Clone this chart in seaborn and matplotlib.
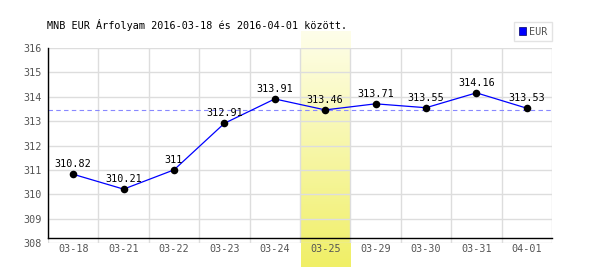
import numpy as np
import pandas as pd
import matplotlib
matplotlib.use("Agg")
import matplotlib.pyplot as plt
from matplotlib.patches import Patch
from matplotlib.colors import LinearSegmentedColormap
import seaborn as sns

dates = ["03-18", "03-21", "03-22", "03-23", "03-24", "03-25", "03-29", "03-30", "03-31", "04-01"]
rates = [310.82, 310.21, 311.00, 312.91, 313.91, 313.46, 313.71, 313.55, 314.16, 313.53]
average_rate = 313.45
highlight_date = "03-25"
title = "MNB EUR Árfolyam 2016-03-18 és 2016-04-01 között."
series_name = "EUR"

plt.rcParams['font.family'] = ['DejaVu Sans Mono']
fs = 7.3

df = pd.DataFrame({"date": dates, "rate": rates})
df["pos"] = np.arange(len(dates))

fig = plt.figure(figsize=(6, 2.7), dpi=100)
ax = fig.add_axes([48/600, 1 - 243/270, 504/600, 195/270])

# highlight band (gradient)
cmap = LinearSegmentedColormap.from_list("band", ["#fefeea", "#f0ef66"])
hi = dates.index(highlight_date)
grad = np.linspace(0, 1, 256).reshape(-1, 1)
ax.imshow(grad, cmap=cmap, aspect="auto", origin="upper",
          extent=(hi - 0.49, hi + 0.49, 307.0, 316.66), clip_on=False, zorder=0)

sns.lineplot(data=df, x="pos", y="rate", color="#0000ff", linewidth=0.9, ax=ax, zorder=3)
sns.scatterplot(data=df, x="pos", y="rate", color="black", s=30, edgecolor="black",
                linewidth=0, ax=ax, zorder=4)
ax.axhline(average_rate, color="#8888ff", linewidth=0.8, linestyle=(0, (4, 3)), zorder=2)

for x, y in zip(df["pos"], df["rate"]):
    ax.annotate(f"{y:g}", (x, y), xytext=(0, 7), textcoords="offset pixels",
                ha="center", va="baseline", fontsize=fs, color="black", zorder=5)

ax.set_xlim(-0.5, len(dates) - 0.5)
ax.set_ylim(308, 316)
ax.set_xticks(df["pos"])
ax.set_xticklabels(dates)
ax.set_xticks(np.arange(-0.5, len(dates)), minor=True)
ax.set_yticks(np.arange(308, 317))
ax.set_axisbelow(True)
ax.grid(which="minor", axis="x", color="#dddddd", linewidth=1)
ax.grid(which="major", axis="y", color="#dddddd", linewidth=1)
ax.grid(which="major", axis="x", visible=False)
ax.tick_params(axis="both", which="both", length=0, labelsize=fs, colors="#555555")
ax.tick_params(axis="y", pad=4.5)
ax.tick_params(axis="x", pad=4)
ax.set_xlabel("")
ax.set_ylabel("")
for s in ["top", "right"]:
    ax.spines[s].set_visible(False)
ax.spines["bottom"].set_position(("axes", 5/195))
ax.spines["bottom"].set_color("black")
ax.spines["left"].set_color("black")
ax.spines["left"].set_bounds(308 + 5/195*8, 316)
ax.spines["bottom"].set_linewidth(1)
ax.spines["left"].set_linewidth(1)
ax.spines["bottom"].set_zorder(6)

fig.text(47/600, 1 - 25/270, title, fontsize=fs, color="black", ha="left", va="center")

handles = [Patch(facecolor="#0000ff", edgecolor="#000066", linewidth=0.5, label=series_name)]
leg = fig.legend(handles=handles, loc="upper right", bbox_to_anchor=(552/600, 1 - 22/270),
                 bbox_transform=fig.transFigure, fontsize=fs, frameon=True, fancybox=False,
                 handlelength=0.7, handleheight=0.7, handletextpad=0.3, borderpad=0.45,
                 borderaxespad=0)
leg.get_frame().set_edgecolor("#dddddd")
leg.get_frame().set_linewidth(1)
for t in leg.get_texts():
    t.set_color("#555555")

fig.savefig("out.png", dpi=100)
